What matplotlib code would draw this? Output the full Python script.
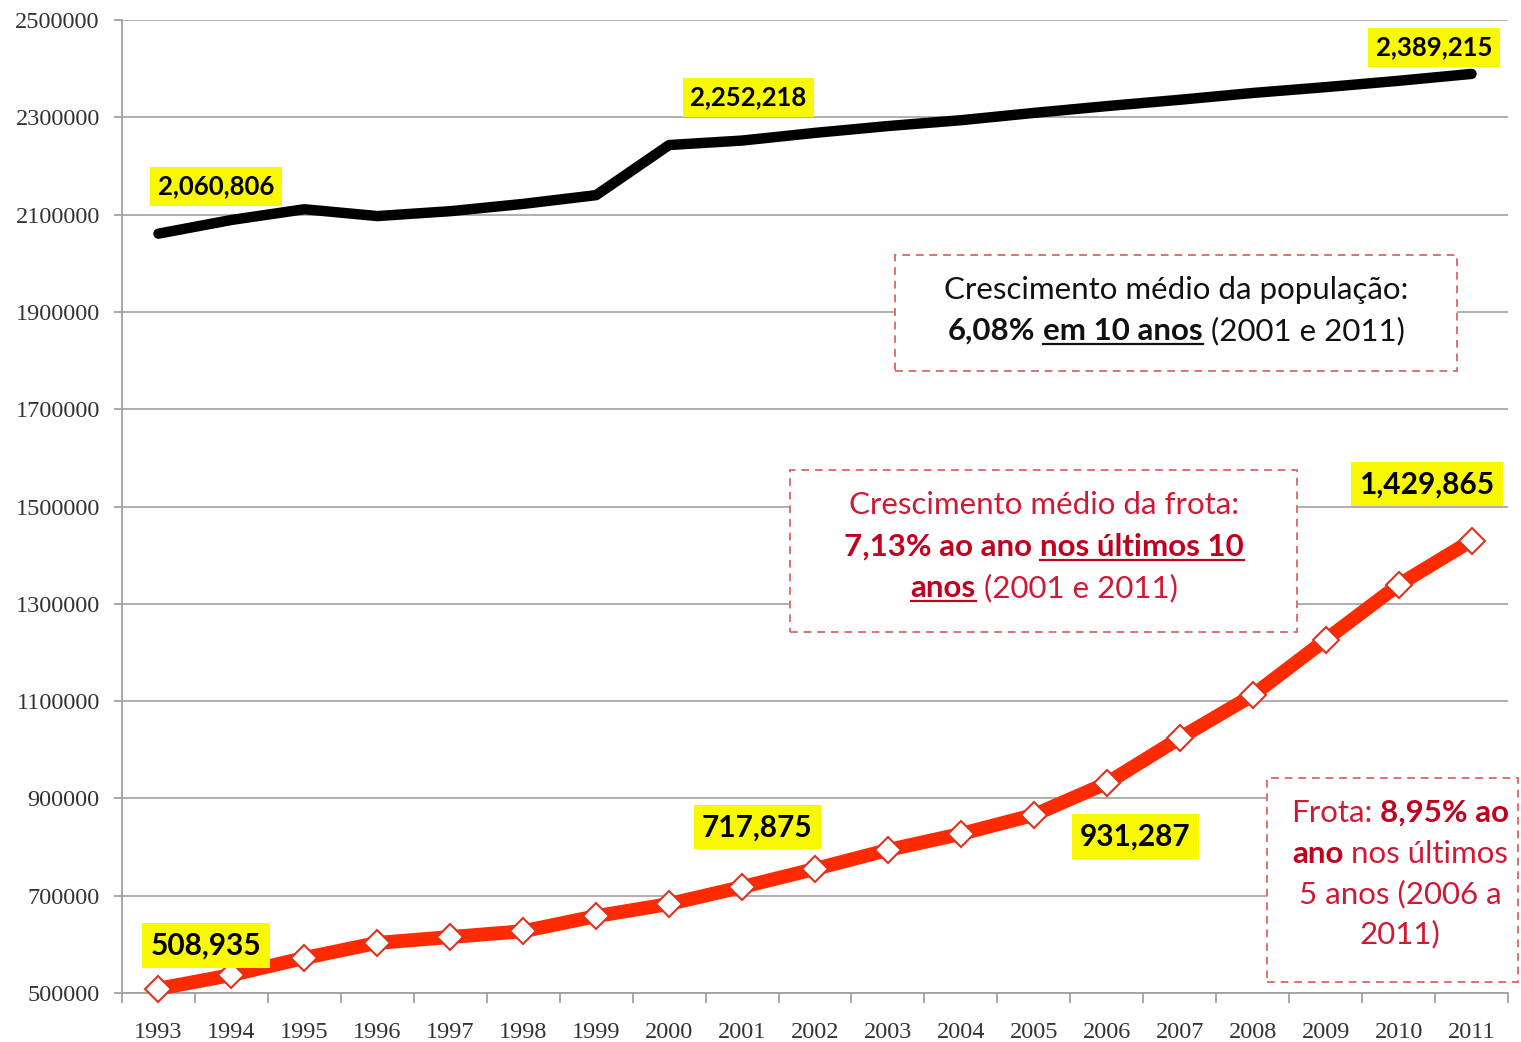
import matplotlib
matplotlib.use('Agg')
import matplotlib.pyplot as plt
from matplotlib.transforms import IdentityTransform
from matplotlib.patches import Rectangle
from matplotlib.lines import Line2D

# data
anos = list(range(1993, 2012))
populacao = [2060806, 2089000, 2111000, 2097000, 2107000, 2122000, 2140000, 2243000,
             2252218, 2268000, 2282000, 2294000, 2309000, 2323000, 2336000, 2350000,
             2362000, 2375000, 2389215]
frota = [508935, 537000, 572000, 603000, 615000, 627000, 658000, 683000, 717875,
         755000, 794000, 827000, 866000, 931287, 1024000, 1112000, 1226000, 1339000,
         1429865]

# which points get a yellow value label
rotulos_pop = [0, 8, 18]
rotulos_frota = [0, 8, 13, 18]

W, H = 1521, 1042
FONT = 'Lato'
SERIF = 'Liberation Serif'
RED_TXT = '#D01A35'
RED_BOLD = '#C0001E'

fig = plt.figure(figsize=(W / 100, H / 100), dpi=100)
ax = fig.add_axes([122 / W, 49 / H, 1386 / W, 973 / H])

x = [i + 0.5 for i in range(len(anos))]
ax.plot(x, populacao, color='black', lw=7.5, solid_capstyle='round',
        solid_joinstyle='round', zorder=3)
ax.plot(x, frota, color='#FF2A00', lw=10, solid_joinstyle='round',
        marker='D', ms=13, mfc='white', mec='#E0301E', mew=1.5, zorder=3, clip_on=False)

ax.set_xlim(0, 19)
ax.set_ylim(500000, 2500000)
yt = list(range(500000, 2500001, 200000))
ax.set_yticks(yt)
ax.set_yticklabels([str(v) for v in yt], fontfamily=SERIF, fontsize=17.5, color='#333333')
ax.set_xticks(range(0, 20))
ax.set_xticklabels([])
ax.set_xticks(x, minor=True)
ax.set_xticklabels([str(a) for a in anos], minor=True, fontfamily=SERIF,
                   fontsize=17.5, color='#333333')
ax.tick_params(axis='x', which='major', length=7, color='#999999', width=1.2)
ax.tick_params(axis='x', which='minor', length=0, pad=21)
ax.tick_params(axis='y', length=6, color='#999999', width=1.2, pad=10)
ax.yaxis.grid(True, color='#A8A8A8', lw=1.3)
ax.set_axisbelow(True)
for s in ['top', 'right']:
    ax.spines[s].set_visible(False)
for s in ['left', 'bottom']:
    ax.spines[s].set_color('#A0A0A0')
    ax.spines[s].set_linewidth(1.3)

# yellow value labels: (x in axis units, y value)
pos_pop = [(1.29, 2158000), (8.59, 2341000), (17.99, 2444000)]
pos_frota = [(1.15, 598000), (8.71, 841000), (13.89, 822000), (17.89, 1546000)]
for i, (lx, ly) in zip(rotulos_pop, pos_pop):
    ax.text(lx, ly, f"{populacao[i]:,}", ha='center', va='center', fontsize=18.5,
            fontweight='bold', family=FONT, zorder=5,
            bbox=dict(boxstyle='square,pad=0.3', fc='#F8F800', ec='none'))
for i, (lx, ly) in zip(rotulos_frota, pos_frota):
    ax.text(lx, ly, f"{frota[i]:,}", ha='center', va='center', fontsize=21.5,
            fontweight='bold', family=FONT, zorder=5,
            bbox=dict(boxstyle='square,pad=0.28', fc='#F8F800', ec='none'))

ident = IdentityTransform()
renderer = fig.canvas.get_renderer()


def caixa(x0, y0, x1, y1):
    fig.add_artist(Rectangle((x0, H - y1), x1 - x0, y1 - y0, transform=ident,
                             fc='white', ec='#E07070', lw=1.4, ls=(0, (4, 3)), zorder=4))


def largura(t):
    return t.get_window_extent(renderer).width


def linha(cx, base, runs, size=22.5):
    # runs: (text, bold, color, underline)
    esp = fig.text(0, 0, 'x x', fontsize=size, family=FONT, transform=ident)
    sem = fig.text(0, 0, 'xx', fontsize=size, family=FONT, transform=ident)
    sp = largura(esp) - largura(sem)
    esp.remove()
    sem.remove()
    items = []
    total = 0
    for s, bold, col, ul in runs:
        if s == ' ':
            items.append((None, sp, ul, col))
            total += sp
            continue
        t = fig.text(0, 0, s, fontsize=size, family=FONT,
                     fontweight='bold' if bold else 'normal', color=col,
                     transform=ident, va='baseline', ha='left', zorder=6)
        w = largura(t)
        items.append((t, w, ul, col))
        total += w
    xx = cx - total / 2
    y = H - base
    for t, w, ul, col in items:
        if t is not None:
            t.set_x(xx)
            t.set_y(y)
        if ul:
            fig.add_artist(Line2D([xx, xx + w], [y - 4, y - 4], transform=ident,
                                  color=col, lw=1.6, zorder=6))
        xx += w


caixa(895, 255, 1457, 371)
linha(1176, 299, [('Crescimento médio da população:', False, '#111111', False)])
linha(1176, 340, [('6,08%', True, '#111111', False), (' ', False, '#111111', False),
                  ('em 10 anos', True, '#111111', True), (' ', False, '#111111', False),
                  ('(2001 e 2011)', False, '#111111', False)])

caixa(790, 470, 1297, 632)
linha(1044, 514, [('Crescimento médio da frota:', False, RED_TXT, False)])
linha(1044, 556, [('7,13% ao ano', True, RED_BOLD, False), (' ', False, RED_BOLD, False),
                  ('nos últimos 10', True, RED_BOLD, True)])
linha(1044, 597, [('anos', True, RED_BOLD, True), (' ', False, RED_TXT, False),
                  ('(2001 e 2011)', False, RED_TXT, False)])

caixa(1267, 778, 1518, 982)
linha(1400, 822, [('Frota:', False, RED_TXT, False), (' ', False, RED_TXT, False),
                  ('8,95% ao', True, RED_BOLD, False)])
linha(1400, 863, [('ano', True, RED_BOLD, False), (' ', False, RED_TXT, False),
                  ('nos últimos', False, RED_TXT, False)])
linha(1400, 903, [('5 anos (2006 a', False, RED_TXT, False)])
linha(1400, 943, [('2011)', False, RED_TXT, False)])

fig.savefig('out.png', dpi=100)
